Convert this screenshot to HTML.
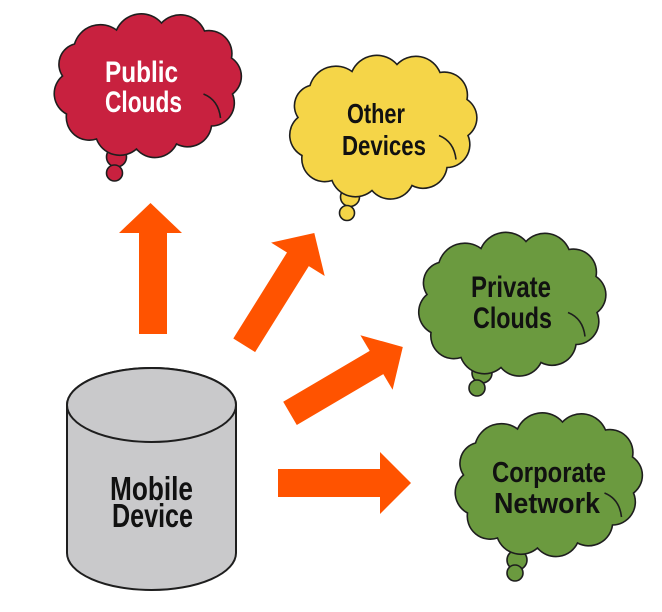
<!DOCTYPE html>
<html>
<head>
<meta charset="utf-8">
<style>
  html, body { margin: 0; padding: 0; background: #ffffff; }
  body { width: 662px; height: 612px; overflow: hidden; }
  svg { display: block; }
  text { font-family: "Liberation Sans Narrow", "Liberation Sans", Arial, sans-serif; font-weight: bold; }
</style>
</head>
<body>
<svg width="662" height="612" viewBox="0 0 662 612" xmlns="http://www.w3.org/2000/svg">
  <defs>
    <path id="cloud" d="M -72,-42
      A 27 27 0 0 1 -30,-56
      A 27 27 0 0 1 15,-63
      A 26 26 0 0 1 58,-55
      A 23 23 0 0 1 85,-28
      A 22 22 0 0 1 86,8
      A 23 23 0 0 1 65,40
      A 24 24 0 0 1 30,58
      A 24 24 0 0 1 -10,63
      A 25 25 0 0 1 -50,53
      A 23 23 0 0 1 -80,28
      A 23 23 0 0 1 -84,-10
      A 21 21 0 0 1 -72,-42 Z"/>
  </defs>

  <!-- Public Clouds -->
  <g transform="translate(146.5,86)" stroke="#1e1e1e" stroke-width="1.6" fill="#C8213F">
    <circle cx="-30" cy="71" r="10"/>
    <circle cx="-32" cy="87" r="8"/>
    <use href="#cloud"/>
    <path d="M 57,8 Q 72,14 74,32" fill="none"/>
  </g>
  <text x="141.5" y="82" font-size="30" fill="#ffffff" text-anchor="middle" textLength="73" lengthAdjust="spacingAndGlyphs">Public</text>
  <text x="143.5" y="112" font-size="30" fill="#ffffff" text-anchor="middle" textLength="77" lengthAdjust="spacingAndGlyphs">Clouds</text>

  <!-- Other Devices -->
  <g transform="translate(382,127.5)" stroke="#1e1e1e" stroke-width="1.6" fill="#F5D548">
    <circle cx="-32" cy="69.5" r="9.5"/>
    <circle cx="-35" cy="85.5" r="7.5"/>
    <use href="#cloud"/>
    <path d="M 57,8 Q 72,14 74,32" fill="none"/>
  </g>
  <text x="376" y="123" font-size="28" fill="#111111" text-anchor="middle" textLength="58" lengthAdjust="spacingAndGlyphs">Other</text>
  <text x="384" y="155" font-size="28" fill="#111111" text-anchor="middle" textLength="84" lengthAdjust="spacingAndGlyphs">Devices</text>

  <!-- Private Clouds -->
  <g transform="translate(511,304.5)" stroke="#1e1e1e" stroke-width="1.6" fill="#6B9A3F">
    <circle cx="-29" cy="68.5" r="10"/>
    <circle cx="-34" cy="83.5" r="8"/>
    <use href="#cloud"/>
    <path d="M 57,8 Q 72,14 74,32" fill="none"/>
  </g>
  <text x="511" y="297" font-size="30" fill="#111111" text-anchor="middle" textLength="80" lengthAdjust="spacingAndGlyphs">Private</text>
  <text x="512.5" y="328" font-size="30" fill="#111111" text-anchor="middle" textLength="79" lengthAdjust="spacingAndGlyphs">Clouds</text>

  <!-- Corporate Network -->
  <g transform="translate(547.5,485)" stroke="#1e1e1e" stroke-width="1.6" fill="#6B9A3F">
    <circle cx="-30.5" cy="75" r="10"/>
    <circle cx="-32.5" cy="88" r="8"/>
    <use href="#cloud"/>
    <path d="M 57,8 Q 72,14 74,32" fill="none"/>
  </g>
  <text x="549" y="482" font-size="29" fill="#111111" text-anchor="middle" textLength="114" lengthAdjust="spacingAndGlyphs">Corporate</text>
  <text x="547" y="513" font-size="29" fill="#111111" text-anchor="middle" textLength="106" lengthAdjust="spacingAndGlyphs">Network</text>

  <!-- Arrows -->
  <g fill="#FF5300">
    <polygon points="139,334 139,233 119,233 150.5,203 182,233 167,233 167,334"/>
    <polygon points="233.3,338.5 255.1,352.1 308.8,266.1 324.7,276.0 314.3,233.0 271.1,242.6 287.0,252.5"/>
    <polygon points="283.2,401.8 296.8,425.0 383.3,374.1 392.6,389.8 402.8,347.0 360.4,335.2 369.7,350.9"/>
    <polygon points="278,469 380,469 380,452 411,483 380,514 380,497 278,497"/>
  </g>

  <!-- Mobile Device cylinder -->
  <g stroke="#1e1e1e" stroke-width="2" fill="#C9C9CB">
    <path d="M 67,405 L 67,553 A 84.5 37 0 0 0 236,553 L 236,405 A 84.5 37 0 0 0 67,405 Z"/>
    <ellipse cx="151.5" cy="405" rx="84.5" ry="37"/>
  </g>
  <text x="151.5" y="500" font-size="33" fill="#111111" text-anchor="middle" textLength="83" lengthAdjust="spacingAndGlyphs">Mobile</text>
  <text x="152.5" y="527" font-size="33" fill="#111111" text-anchor="middle" textLength="81" lengthAdjust="spacingAndGlyphs">Device</text>
</svg>
</body>
</html>
